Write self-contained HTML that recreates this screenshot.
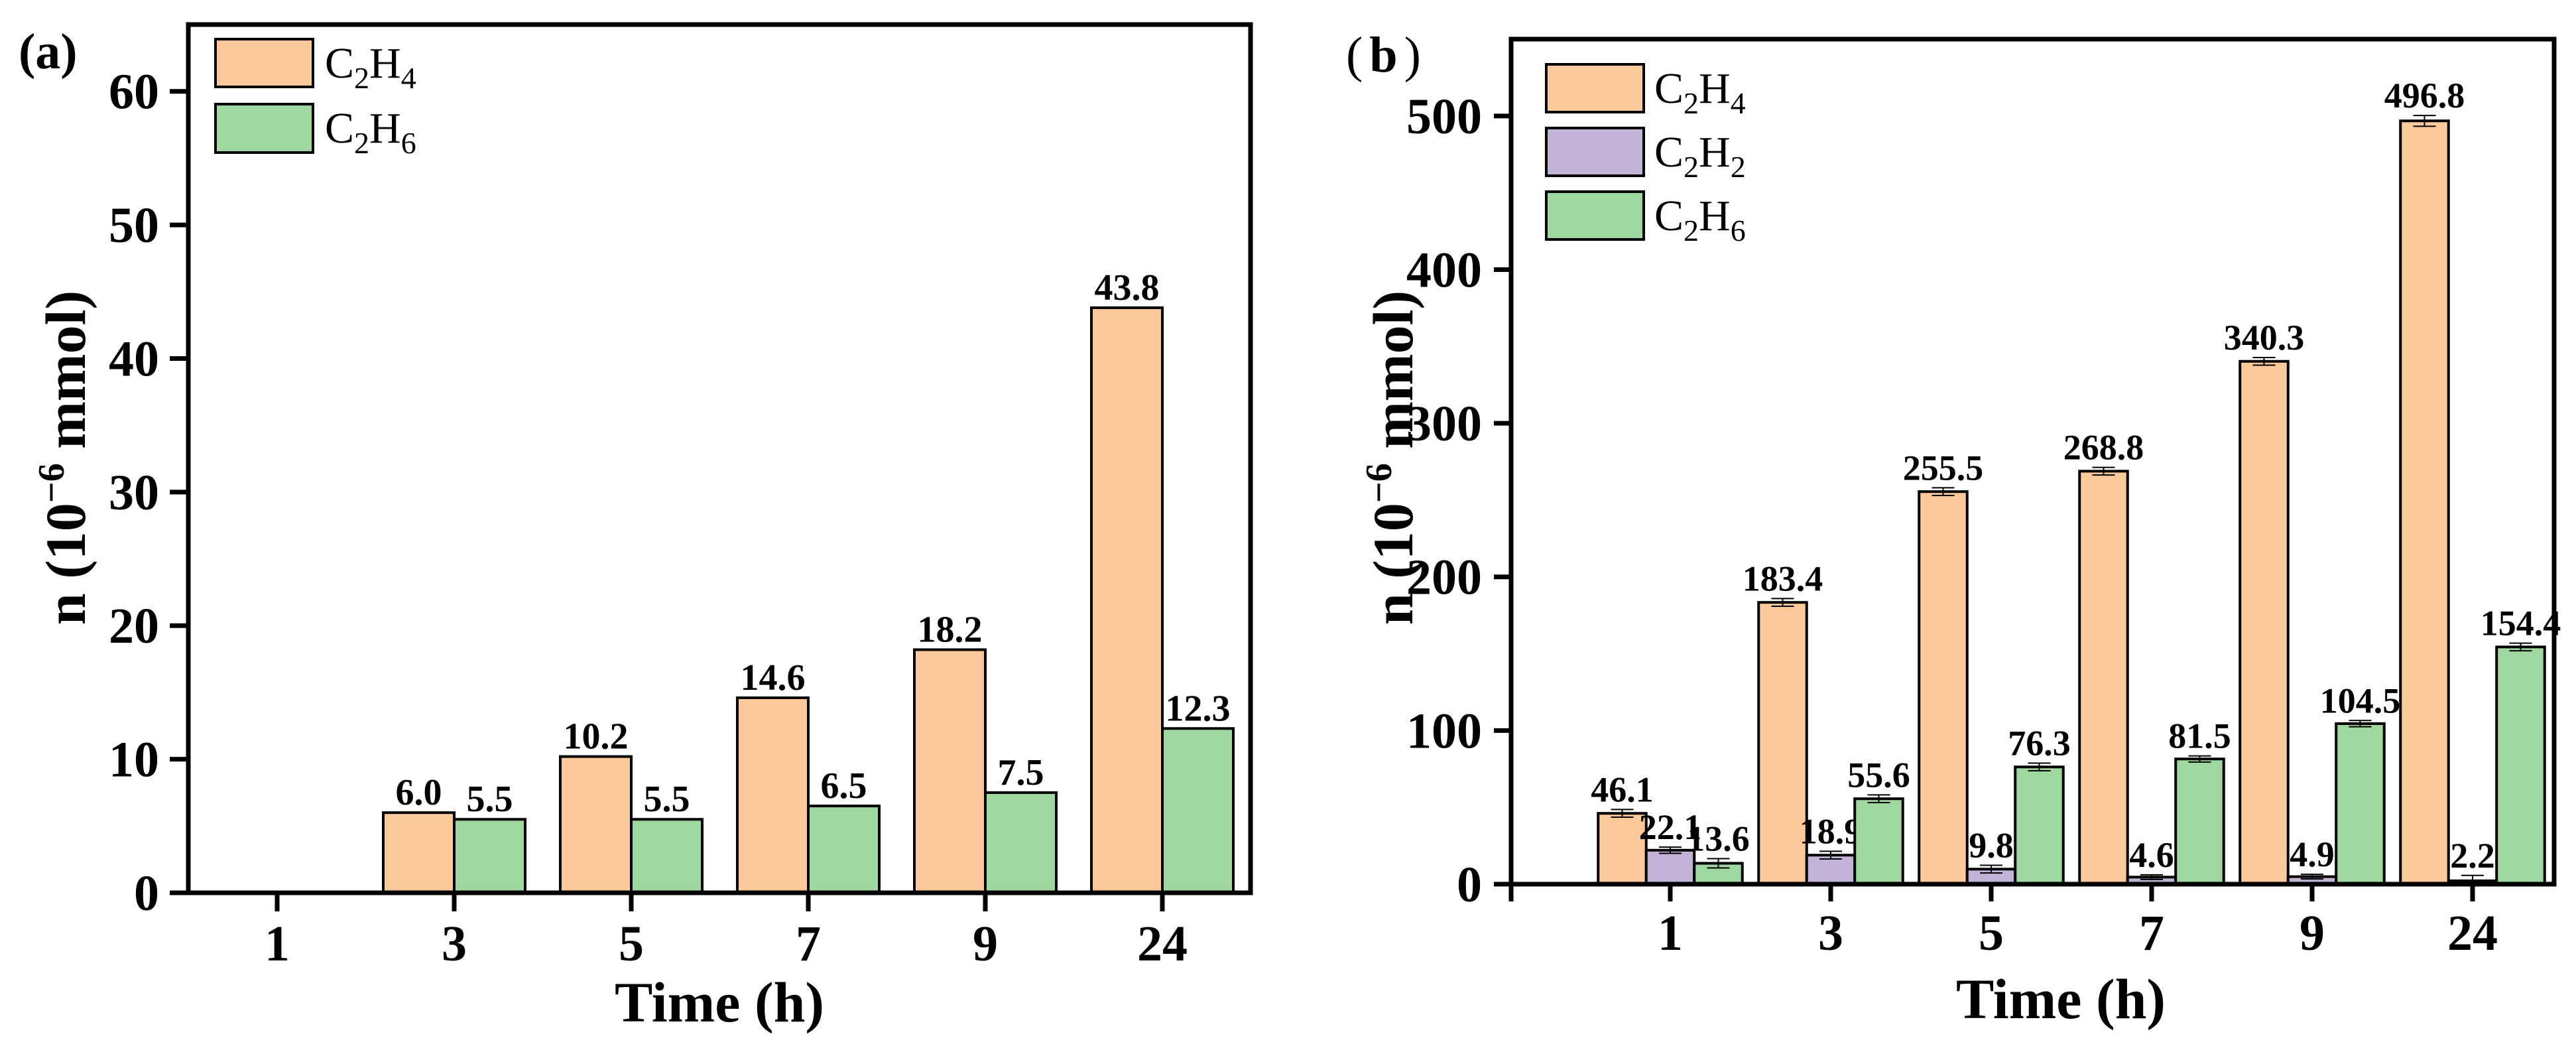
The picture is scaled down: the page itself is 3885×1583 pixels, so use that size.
<!DOCTYPE html>
<html><head><meta charset="utf-8"><style>
html,body{margin:0;padding:0;background:#fff;}
svg{display:block;font-family:"Liberation Serif","DejaVu Serif",serif;}
</style></head><body>
<svg id="fig" width="3885" height="1583" viewBox="0 0 3885 1583" xmlns="http://www.w3.org/2000/svg"></svg>
<script>
// ---- data panel (a) ----
const catsA = ["1","3","5","7","9","24"];
const c2h4A = [0, 6.0, 10.2, 14.6, 18.2, 43.8];
const c2h6A = [0, 5.5, 5.5, 6.5, 7.5, 12.3];
const yTicksA = [0,10,20,30,40,50,60];
// ---- data panel (b) ----
const catsB = ["1","3","5","7","9","24"];
const c2h4B = [46.1, 183.4, 255.5, 268.8, 340.3, 496.8];
const c2h2B = [22.1, 18.9, 9.8, 4.6, 4.9, 2.2];
const c2h6B = [13.6, 55.6, 76.3, 81.5, 104.5, 154.4];
const c2h4ErrB = [2.5, 2.5, 2.5, 2.5, 2.5, 3.5];
const c2h2ErrB = [2, 2.5, 2.5, 1.5, 1.5, 3.5];
const c2h6ErrB = [3, 2.5, 2.5, 2, 2, 2.5];
const yTicksB = [0,100,200,300,400,500];

const NS="http://www.w3.org/2000/svg";
const svg=document.getElementById('fig');
function mk(tag,attrs,parent){const e=document.createElementNS(NS,tag);for(const k in attrs)e.setAttribute(k,attrs[k]);(parent||svg).appendChild(e);return e;}
const ORANGE="#FBC99A", GREEN="#9FD89E", PURPLE="#C2B2D6";

// ===== Panel A =====
const A={l:284,r:1886,t:37,b:1346,ymax:65,c0:418,dc:267,bw:107};
const yA=v=>A.b-(A.b-A.t)*v/A.ymax;
const xA=i=>A.c0+A.dc*i;
const gA=mk('g',{});


catsA.forEach((c,i)=>{
  [[c2h4A,ORANGE,-A.bw,'c2h4'],[c2h6A,GREEN,0,'c2h6']].forEach(([arr,col,off,nm])=>{
    const v=arr[i]; if(v<=0) return;
    const r=mk('rect',{x:xA(i)+off,y:yA(v),width:A.bw,height:A.b-yA(v),fill:col,stroke:'#000','stroke-width':4},gA);
    
    
    const t=mk('text',{x:xA(i)+off+A.bw/2,y:yA(v)-12,'text-anchor':'middle','font-size':56,'font-weight':'bold'},gA);
    t.textContent=v.toFixed(1);
    
    
  });
  mk('line',{x1:xA(i),x2:xA(i),y1:A.b,y2:A.b+28,stroke:'#000','stroke-width':7},gA);
  const tl=mk('text',{x:xA(i),y:A.b+102,'text-anchor':'middle','font-size':76,'font-weight':'bold'},gA);
  tl.textContent=c;
  
  
});
yTicksA.forEach(v=>{
  mk('line',{x1:A.l-28,x2:A.l,y1:yA(v),y2:yA(v),stroke:'#000','stroke-width':7},gA);
  const t=mk('text',{x:A.l-44,y:yA(v)+26,'text-anchor':'end','font-size':76,'font-weight':'bold'},gA);
  t.textContent=v;
  
  
});
const frA=mk('rect',{x:A.l,y:A.t,width:A.r-A.l,height:A.b-A.t,fill:'none',stroke:'#000','stroke-width':7},gA);



// ===== Panel B =====
const B={l:2279,r:3852,t:59,b:1333,ymax:550,c0:2519,dc:242,bw:72.5};
const yB=v=>B.b-(B.b-B.t)*v/B.ymax;
const xB=i=>B.c0+B.dc*i;
const gB=mk('g',{});


catsB.forEach((c,i)=>{
  [[c2h4B,c2h4ErrB,ORANGE,-1.5,'c2h4'],[c2h2B,c2h2ErrB,PURPLE,-0.5,'c2h2'],[c2h6B,c2h6ErrB,GREEN,0.5,'c2h6']].forEach(([arr,err,col,k,nm])=>{
    const v=arr[i], x0=xB(i)+k*B.bw, cx=x0+B.bw/2;
    const r=mk('rect',{x:x0,y:yB(v),width:B.bw,height:B.b-yB(v),fill:col,stroke:'#000','stroke-width':4},gB);
    
    
    const e=err[i], yt=yB(v+e), yb=yB(Math.max(v-e,0));
    mk('line',{x1:cx,x2:cx,y1:yt,y2:yb,stroke:'#000','stroke-width':2},gB);
    mk('line',{x1:cx-17,x2:cx+17,y1:yt,y2:yt,stroke:'#000','stroke-width':2},gB);
    mk('line',{x1:cx-17,x2:cx+17,y1:yb,y2:yb,stroke:'#000','stroke-width':2},gB);
    const t=mk('text',{x:cx,y:yt-12,'text-anchor':'middle','font-size':54,'font-weight':'bold'},gB);
    t.textContent=v.toFixed(1);
    
    
  });
  mk('line',{x1:xB(i),x2:xB(i),y1:B.b,y2:B.b+26,stroke:'#000','stroke-width':7},gB);
  const tl=mk('text',{x:xB(i),y:B.b+99,'text-anchor':'middle','font-size':76,'font-weight':'bold'},gB);
  tl.textContent=c;
  
  
});
mk('line',{x1:B.l,x2:B.l,y1:B.b,y2:B.b+26,stroke:'#000','stroke-width':7},gB);
yTicksB.forEach(v=>{
  mk('line',{x1:B.l-26,x2:B.l,y1:yB(v),y2:yB(v),stroke:'#000','stroke-width':7},gB);
  const t=mk('text',{x:B.l-44,y:yB(v)+26,'text-anchor':'end','font-size':76,'font-weight':'bold'},gB);
  t.textContent=v;
  
  
});
const frB=mk('rect',{x:B.l,y:B.t,width:B.r-B.l,height:B.b-B.t,fill:'none',stroke:'#000','stroke-width':7},gB);


</script>
<script>
(function(){
const NS="http://www.w3.org/2000/svg", svg=document.getElementById('fig');
function add(html){const g=document.createElementNS(NS,'g');g.innerHTML=html;svg.appendChild(g);}
add(`
<text x="28" y="103" font-size="76" font-weight="bold">(a)</text>
<text x="2030" y="108" font-size="76">(<tspan dx="10" font-weight="bold">b</tspan><tspan dx="10">)</tspan></text>
<text transform="translate(128,690) rotate(-90)" text-anchor="middle" font-size="86" font-weight="bold">n (10<tspan dy="-32" font-size="56">−6</tspan><tspan dy="32"> mmol)</tspan></text>
<text x="1085" y="1540" text-anchor="middle" font-size="86" font-weight="bold">Time (h)</text>
<text transform="translate(2130,690) rotate(-90)" text-anchor="middle" font-size="86" font-weight="bold">n (10<tspan dy="-32" font-size="56">−6</tspan><tspan dy="32"> mmol)</tspan></text>
<text x="3108" y="1535" text-anchor="middle" font-size="86" font-weight="bold">Time (h)</text>
<g>
 <rect x="325" y="59" width="147" height="72" fill="#FBC99A" stroke="#000" stroke-width="4"/>
 <text x="490" y="117" font-size="66">C<tspan dy="16" font-size="46">2</tspan><tspan dy="-16">H</tspan><tspan dy="16" font-size="46">4</tspan></text>
 <rect x="325" y="157" width="147" height="73" fill="#9FD89E" stroke="#000" stroke-width="4"/>
 <text x="490" y="215" font-size="66">C<tspan dy="16" font-size="46">2</tspan><tspan dy="-16">H</tspan><tspan dy="16" font-size="46">6</tspan></text>
</g>
<g>
 <rect x="2332" y="97" width="147" height="72" fill="#FBC99A" stroke="#000" stroke-width="4"/>
 <text x="2495" y="155" font-size="66">C<tspan dy="16" font-size="46">2</tspan><tspan dy="-16">H</tspan><tspan dy="16" font-size="46">4</tspan></text>
 <rect x="2332" y="193" width="147" height="72" fill="#C2B2D6" stroke="#000" stroke-width="4"/>
 <text x="2495" y="251" font-size="66">C<tspan dy="16" font-size="46">2</tspan><tspan dy="-16">H</tspan><tspan dy="16" font-size="46">2</tspan></text>
 <rect x="2332" y="289" width="147" height="72" fill="#9FD89E" stroke="#000" stroke-width="4"/>
 <text x="2495" y="347" font-size="66">C<tspan dy="16" font-size="46">2</tspan><tspan dy="-16">H</tspan><tspan dy="16" font-size="46">6</tspan></text>
</g>`);
})();
</script>
</body></html>
